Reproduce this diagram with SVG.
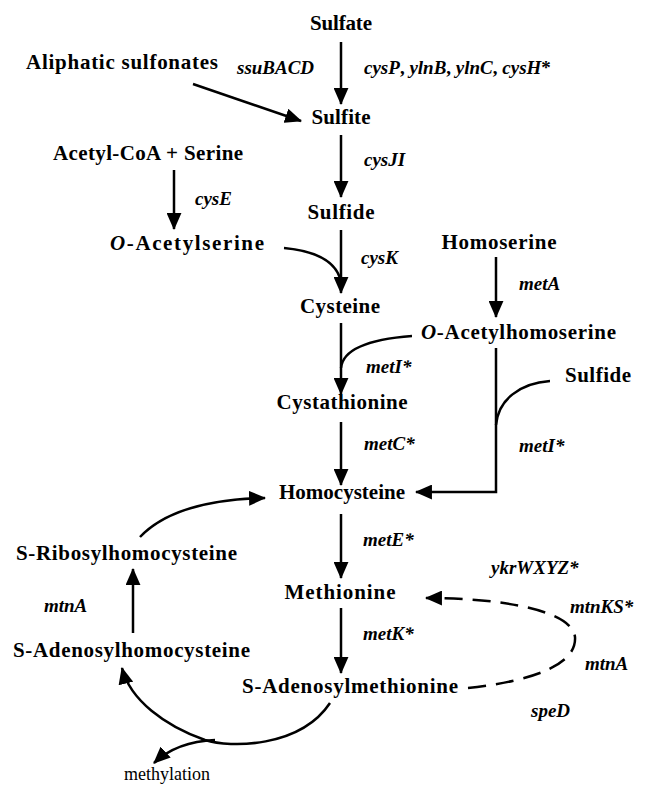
<svg xmlns="http://www.w3.org/2000/svg" width="649" height="787" viewBox="0 0 649 787">
<style>
.c{font-family:"Liberation Serif","Times New Roman",serif;font-weight:bold;font-size:21px;fill:#000}
.g{font-family:"Liberation Serif","Times New Roman",serif;font-weight:bold;font-style:italic;font-size:19px;fill:#000}
.r{font-family:"Liberation Serif","Times New Roman",serif;font-size:18px;fill:#000}
.m{text-anchor:middle}
.ln{fill:none;stroke:#000;stroke-width:2.5}
.d{stroke-dasharray:18 10}
</style>
<defs>
<marker id="ah" viewBox="0 0 16 14" refX="15" refY="7" markerWidth="17" markerHeight="15" markerUnits="userSpaceOnUse" orient="auto"><path d="M0,0 L16,7 L0,14 Z" fill="#000"/></marker>
</defs>
<g id="connectors">
<path class="ln" d="M341,42 L341,104" marker-end="url(#ah)"/>
<path class="ln" d="M193,84 L301,121" marker-end="url(#ah)"/>
<path class="ln" d="M341,135 L341,197" marker-end="url(#ah)"/>
<path class="ln" d="M174,170 L174,229" marker-end="url(#ah)"/>
<path class="ln" d="M341,230 L341,293" marker-end="url(#ah)"/>
<path class="ln" d="M284,248 C316,251 337,262 341,282"/>
<path class="ln" d="M496,257 L496,317" marker-end="url(#ah)"/>
<path class="ln" d="M341,323 L341,394" marker-end="url(#ah)"/>
<path class="ln" d="M412,336 C372,339 343,348 341,368"/>
<path class="ln" d="M341,422 L341,485" marker-end="url(#ah)"/>
<path class="ln" d="M496,348 L496,492 L416,492" marker-end="url(#ah)"/>
<path class="ln" d="M550,381 C520,383 498,400 496,425"/>
<path class="ln" d="M140,537 Q175,500 265,498" marker-end="url(#ah)"/>
<path class="ln" d="M341,514 L341,578" marker-end="url(#ah)"/>
<path class="ln" d="M133,633 L133,569" marker-end="url(#ah)"/>
<path class="ln" d="M341,608 L341,673" marker-end="url(#ah)"/>
<path class="ln" d="M330,703 C300,748 230,748 205,740 C165,726 130,700 122,668" marker-end="url(#ah)"/>
<path class="ln" d="M215,740 C190,741 170,748 154,763" marker-end="url(#ah)"/>
<path class="ln d" d="M468,688 C532,681 577,665 575,637 C572,610 500,598 426,598" marker-end="url(#ah)"/>
</g>
<g id="sulfate"><text class="c m" x="341" y="30" textLength="62">Sulfate</text></g>
<g id="aliphatic"><text class="c" x="26" y="69" textLength="192">Aliphatic sulfonates</text></g>
<g id="sulfite"><text class="c m" x="341" y="124" textLength="59">Sulfite</text></g>
<g id="acetylcoa"><text class="c" x="53" y="160" textLength="190">Acetyl-CoA + Serine</text></g>
<g id="sulfide1"><text class="c m" x="341" y="219" textLength="67">Sulfide</text></g>
<g id="oacetylserine"><text class="c" x="110" y="250" textLength="154"><tspan font-style="italic">O</tspan>-Acetylserine</text></g>
<g id="homoserine"><text class="c m" x="499" y="249" textLength="115">Homoserine</text></g>
<g id="cysteine"><text class="c m" x="340" y="313" textLength="80">Cysteine</text></g>
<g id="oacetylhomoserine"><text class="c" x="421" y="339" textLength="195"><tspan font-style="italic">O</tspan>-Acetylhomoserine</text></g>
<g id="sulfide2"><text class="c" x="565" y="382" textLength="66">Sulfide</text></g>
<g id="cystathionine"><text class="c m" x="342" y="409" textLength="131">Cystathionine</text></g>
<g id="homocysteine"><text class="c m" x="342" y="499" textLength="126">Homocysteine</text></g>
<g id="ribosylhomocysteine"><text class="c" x="16" y="560" textLength="221">S-Ribosylhomocysteine</text></g>
<g id="methionine"><text class="c m" x="340" y="599" textLength="111">Methionine</text></g>
<g id="adenosylhomocysteine"><text class="c" x="13" y="657" textLength="237">S-Adenosylhomocysteine</text></g>
<g id="adenosylmethionine"><text class="c" x="242" y="693" textLength="216">S-Adenosylmethionine</text></g>
<g id="methylation"><text class="r" x="124" y="780">methylation</text></g>
<g id="genes">
<text class="g" x="237" y="74">ssuBACD</text>
<text class="g" x="364" y="74">cysP<tspan font-style="normal">,</tspan> ylnB<tspan font-style="normal">,</tspan> ylnC<tspan font-style="normal">,</tspan> cysH<tspan font-style="normal">*</tspan></text>
<text class="g" x="364" y="166">cysJI</text>
<text class="g" x="195" y="205">cysE</text>
<text class="g" x="361" y="264">cysK</text>
<text class="g" x="519" y="290">metA</text>
<text class="g" x="366" y="373">metI*</text>
<text class="g" x="519" y="452">metI*</text>
<text class="g" x="364" y="450">metC*</text>
<text class="g" x="363" y="546">metE*</text>
<text class="g" x="491" y="574">ykrWXYZ*</text>
<text class="g" x="44" y="612">mtnA</text>
<text class="g" x="363" y="640">metK*</text>
<text class="g" x="570" y="613">mtnKS*</text>
<text class="g" x="585" y="670">mtnA</text>
<text class="g" x="531" y="717">speD</text>
</g>
</svg>
